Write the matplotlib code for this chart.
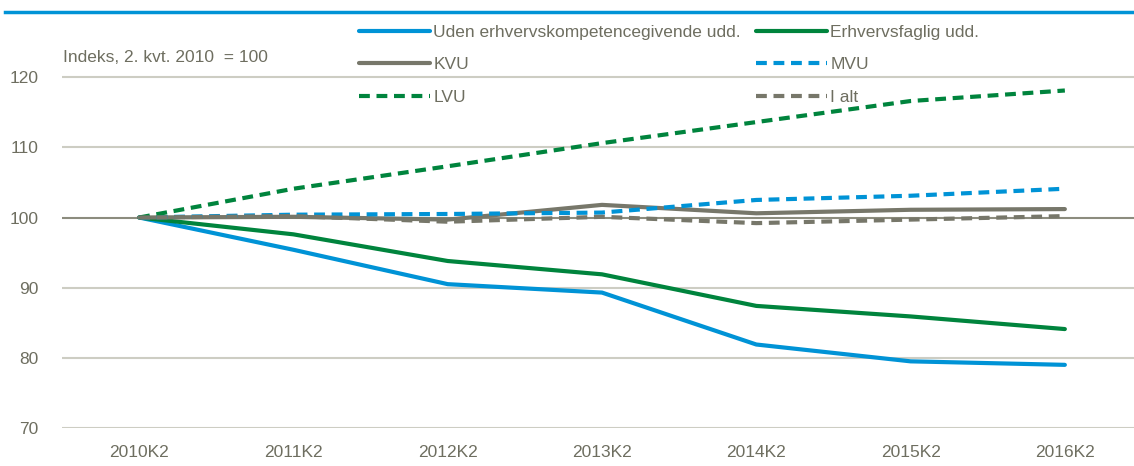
import numpy as np
import matplotlib
matplotlib.use('Agg')
import matplotlib.pyplot as plt
from matplotlib.lines import Line2D

quarters = ['2010K2', '2011K2', '2012K2', '2013K2', '2014K2', '2015K2', '2016K2']
uden = [100, 95.4, 90.5, 89.3, 81.9, 79.5, 79.0]
erhverv = [100, 97.6, 93.8, 91.9, 87.4, 85.9, 84.1]
kvu = [100, 100.1, 99.7, 101.8, 100.6, 101.1, 101.2]
mvu = [100, 100.4, 100.5, 100.7, 102.5, 103.1, 104.1]
lvu = [100, 104.1, 107.3, 110.6, 113.6, 116.6, 118.1]
ialt = [100, 100.2, 99.4, 100.1, 99.2, 99.7, 100.2]
yticks = [70, 80, 90, 100, 110, 120]

blue = '#0093D6'
green = '#00843D'
gray = '#77776A'
txt = '#6E6E60'

plt.rcParams['font.family'] = ['Liberation Sans', 'DejaVu Sans']

fig = plt.figure(figsize=(11.34, 4.66), dpi=100)
ax = fig.add_axes([62 / 1134, 1 - 428 / 466, 1080 / 1134, 421 / 466])

x = np.arange(len(quarters))
lw = 3.0
dash = (0, (2.6, 1.6))
ax.plot(x, uden, color=blue, lw=lw, solid_capstyle='round', label='Uden erhvervskompetencegivende udd.', zorder=3)
ax.plot(x, erhverv, color=green, lw=lw, solid_capstyle='round', label='Erhvervsfaglig udd.', zorder=3)
ax.plot(x, kvu, color=gray, lw=lw, solid_capstyle='round', label='KVU', zorder=3)
ax.plot(x, mvu, color=blue, lw=lw, ls=dash, label='MVU', zorder=3)
ax.plot(x, lvu, color=green, lw=lw, ls=dash, label='LVU', zorder=3)
ax.plot(x, ialt, color=gray, lw=lw, ls=dash, label='I alt', zorder=3)

for t in yticks:
    ax.axhline(t, color='#8C8C7E' if t == 100 else '#CDCDC3', lw=1.5, zorder=1)

ax.set_xlim(-0.5, len(quarters) - 0.5)
ax.set_ylim(70, 130)
ax.set_yticks(yticks)
ax.set_xticks(x)
ax.set_xticklabels(quarters)
ax.tick_params(length=0, labelsize=12.5, colors=txt, pad=12)
ax.tick_params(axis='y', pad=17)
for s in ax.spines.values():
    s.set_visible(False)

fig.text(63 / 1134, 1 - 57 / 466, 'Indeks, 2. kvt. 2010  = 100', color=txt, fontsize=12.5, va='center')

handles, labels = ax.get_legend_handles_labels()
order = [0, 2, 4, 1, 3, 5]
leg = fig.legend([handles[i] for i in order], [labels[i] for i in order], ncol=2,
                 loc='upper left', bbox_to_anchor=(343 / 1134, 1 - 9 / 466),
                 frameon=False, fontsize=12.5, handlelength=4.1, handletextpad=0.2,
                 columnspacing=0.85, labelspacing=1.0, labelcolor=txt)

fig.add_artist(Line2D([5 / 1134, 1], [1 - 12 / 466, 1 - 12 / 466], color=blue, lw=2.5))

fig.savefig('out.png', dpi=100)
